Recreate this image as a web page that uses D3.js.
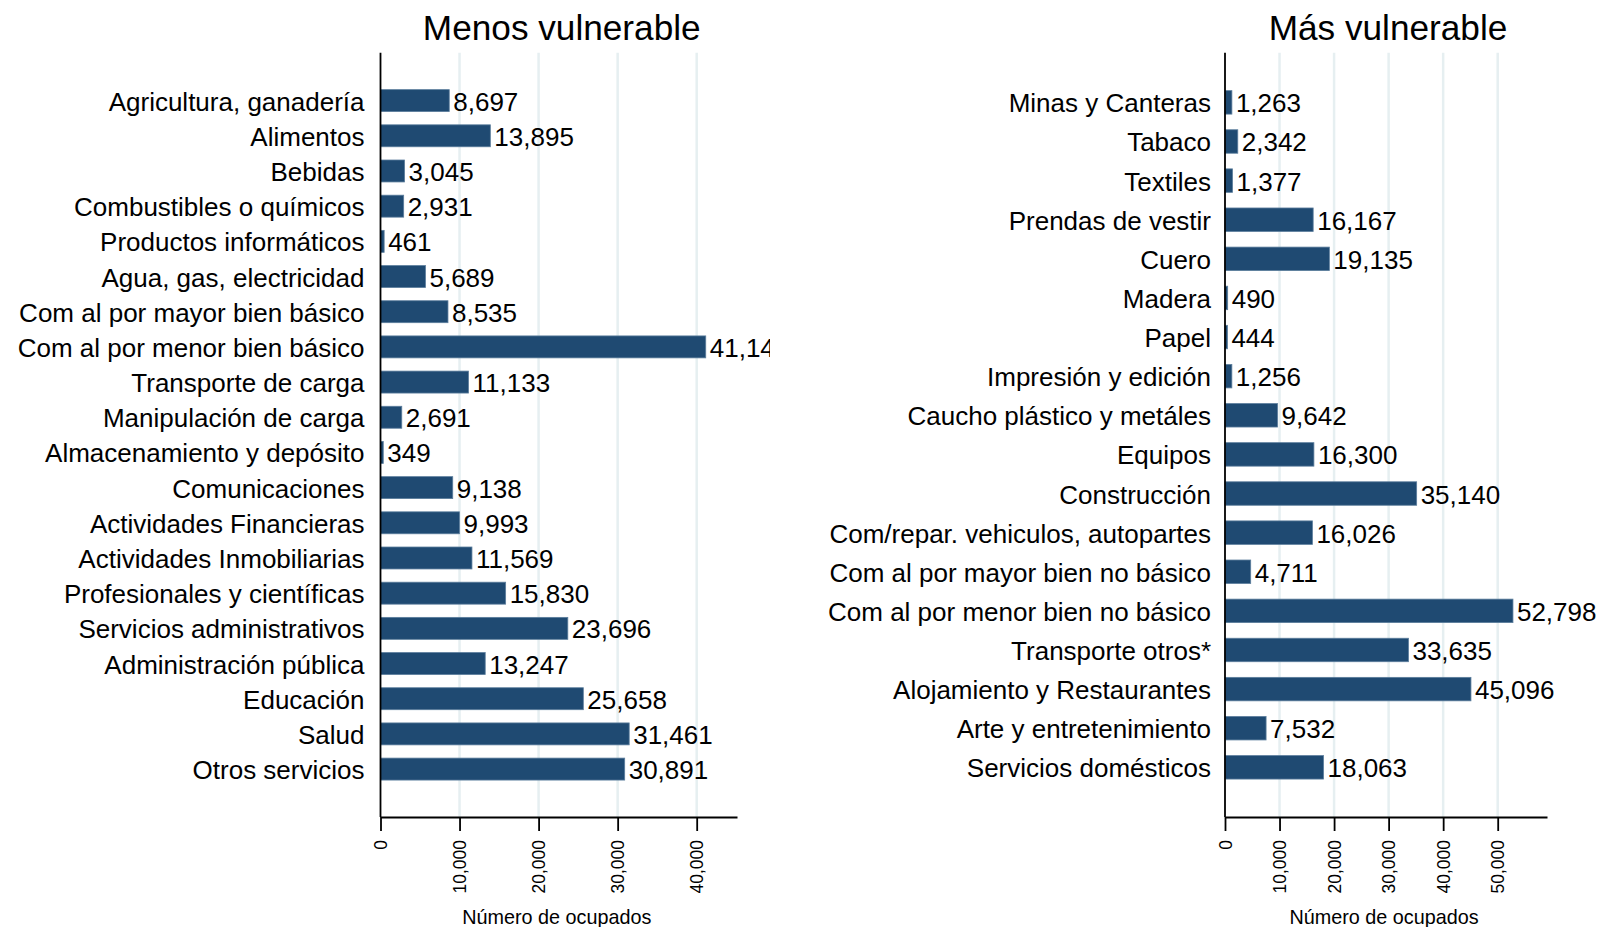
<!DOCTYPE html>
<html>
<head>
<meta charset="utf-8">
<script src="https://cdn.jsdelivr.net/npm/d3@7"></script>
<style>
  body { margin: 0; background: #fff; }
  text { font-family: "Liberation Sans", Arial, sans-serif; fill: #000; }
</style>
</head>
<body>
<div id="chart"></div>
<script>
// data
var leftTitle = "Menos vulnerable";
var leftCategories = ["Agricultura, ganadería", "Alimentos", "Bebidas", "Combustibles o químicos",
    "Productos informáticos", "Agua, gas, electricidad", "Com al por mayor bien básico",
    "Com al por menor bien básico", "Transporte de carga", "Manipulación de carga",
    "Almacenamiento y depósito", "Comunicaciones", "Actividades Financieras",
    "Actividades Inmobiliarias", "Profesionales y científicas", "Servicios administrativos",
    "Administración pública", "Educación", "Salud", "Otros servicios"];
var leftValues = [8697, 13895, 3045, 2931, 461, 5689, 8535, 41145, 11133, 2691, 349,
    9138, 9993, 11569, 15830, 23696, 13247, 25658, 31461, 30891];
var leftTicks = [0, 10000, 20000, 30000, 40000];

var rightTitle = "Más vulnerable";
var rightCategories = ["Minas y Canteras", "Tabaco", "Textiles", "Prendas de vestir", "Cuero",
    "Madera", "Papel", "Impresión y edición", "Caucho plástico y metáles", "Equipos",
    "Construcción", "Com/repar. vehiculos, autopartes", "Com al por mayor bien no básico",
    "Com al por menor bien no básico", "Transporte otros*", "Alojamiento y Restaurantes",
    "Arte y entretenimiento", "Servicios domésticos"];
var rightValues = [1263, 2342, 1377, 16167, 19135, 490, 444, 1256, 9642, 16300, 35140,
    16026, 4711, 52798, 33635, 45096, 7532, 18063];
var rightTicks = [0, 10000, 20000, 30000, 40000, 50000];

var xTitle = "Número de ocupados";

var svgWidth = 1601, svgHeight = 927;
var barColor = "#1f4a72";
var fmt = d3.format(",");

var svg = d3.select("#chart").append("svg")
    .attr("width", svgWidth)
    .attr("height", svgHeight);

var defs = svg.append("defs");
defs.append("clipPath").attr("id", "clipLeft")
    .append("rect").attr("x", 0).attr("y", 0).attr("width", 770).attr("height", svgHeight);

function drawPanel(opt) {
    var g = svg.append("g");
    if (opt.clip) g.attr("clip-path", "url(#" + opt.clip + ")");

    var x = d3.scaleLinear().domain([0, opt.xMax]).range([opt.x0, opt.x1]);
    var y = d3.scaleBand()
        .domain(opt.categories)
        .range([opt.top, opt.bottom])
        .paddingInner(opt.padInner)
        .paddingOuter(opt.padOuter);

    // gridlines
    g.selectAll(".grid")
        .data(opt.ticks.filter(function (d) { return d > 0; }))
        .enter().append("line")
        .attr("x1", function (d) { return x(d); })
        .attr("x2", function (d) { return x(d); })
        .attr("y1", opt.top)
        .attr("y2", opt.bottom)
        .attr("stroke", "#e6eff1")
        .attr("stroke-width", 2.5);

    var rows = opt.categories.map(function (c, i) { return { cat: c, val: opt.values[i] }; });

    // bars
    g.selectAll(".bar")
        .data(rows)
        .enter().append("rect")
        .attr("x", x(0))
        .attr("y", function (d) { return y(d.cat); })
        .attr("width", function (d) { return x(d.val) - x(0); })
        .attr("height", y.bandwidth())
        .attr("fill", barColor)
        .attr("stroke", "#5b7d9c")
        .attr("stroke-width", 0.8);

    // value labels
    g.selectAll(".val")
        .data(rows)
        .enter().append("text")
        .attr("x", function (d) { return x(d.val) + 4; })
        .attr("y", function (d) { return y(d.cat) + y.bandwidth() / 2 + 10; })
        .attr("font-size", "26px")
        .text(function (d) { return fmt(d.val); });

    // category labels
    g.selectAll(".cat")
        .data(rows)
        .enter().append("text")
        .attr("x", opt.x0 - opt.labelGap)
        .attr("y", function (d) { return y(d.cat) + y.bandwidth() / 2 + 10; })
        .attr("text-anchor", "end")
        .attr("font-size", "26px")
        .text(function (d) { return d.cat; });

    // axes
    var yAxis = d3.axisLeft(y).tickSize(0).tickFormat("");
    g.append("g")
        .attr("transform", "translate(" + opt.x0 + ",0)")
        .call(yAxis)
        .call(function (s) {
            s.select(".domain").attr("stroke", "#000").attr("stroke-width", 1.8)
                .attr("d", "M0," + opt.top + "V" + opt.bottom);
        });

    var xAxis = d3.axisBottom(x).tickValues(opt.ticks).tickSize(14).tickSizeOuter(0)
        .tickFormat(function (d) { return fmt(d); });
    var ax = g.append("g")
        .attr("transform", "translate(0," + opt.bottom + ")")
        .call(xAxis);
    ax.select(".domain").attr("stroke", "#000").attr("stroke-width", 1.8);
    ax.selectAll(".tick line").attr("stroke", "#000").attr("stroke-width", 1.8);
    ax.selectAll(".tick text")
        .attr("font-family", "'Liberation Sans', Arial, sans-serif")
        .attr("font-size", "17.5px")
        .attr("fill", "#000")
        .attr("text-anchor", "end")
        .attr("dy", null)
        .attr("y", null)
        .attr("transform", "translate(6,23) rotate(-90)");

    // title
    svg.append("text")
        .attr("x", (opt.x0 + opt.x1) / 2 + opt.titleShift)
        .attr("y", 40)
        .attr("text-anchor", "middle")
        .attr("font-size", "35.2px")
        .text(opt.title);

    // x axis title
    svg.append("text")
        .attr("x", (opt.x0 + opt.x1) / 2 - 2)
        .attr("y", 924)
        .attr("text-anchor", "middle")
        .attr("font-size", "19.8px")
        .text(xTitle);
}

drawPanel({
    title: leftTitle, categories: leftCategories, values: leftValues, ticks: leftTicks,
    xMax: 45100, x0: 380.5, x1: 737, top: 52.7, bottom: 817,
    padInner: 0.376, padOuter: 1.05, clip: "clipLeft", labelGap: 16, titleShift: 3
});

drawPanel({
    title: rightTitle, categories: rightCategories, values: rightValues, ticks: rightTicks,
    xMax: 59040, x0: 1225, x1: 1547, top: 52.7, bottom: 817,
    padInner: 0.4, padOuter: 0.97, labelGap: 14, titleShift: 2
});
</script>
</body>
</html>
